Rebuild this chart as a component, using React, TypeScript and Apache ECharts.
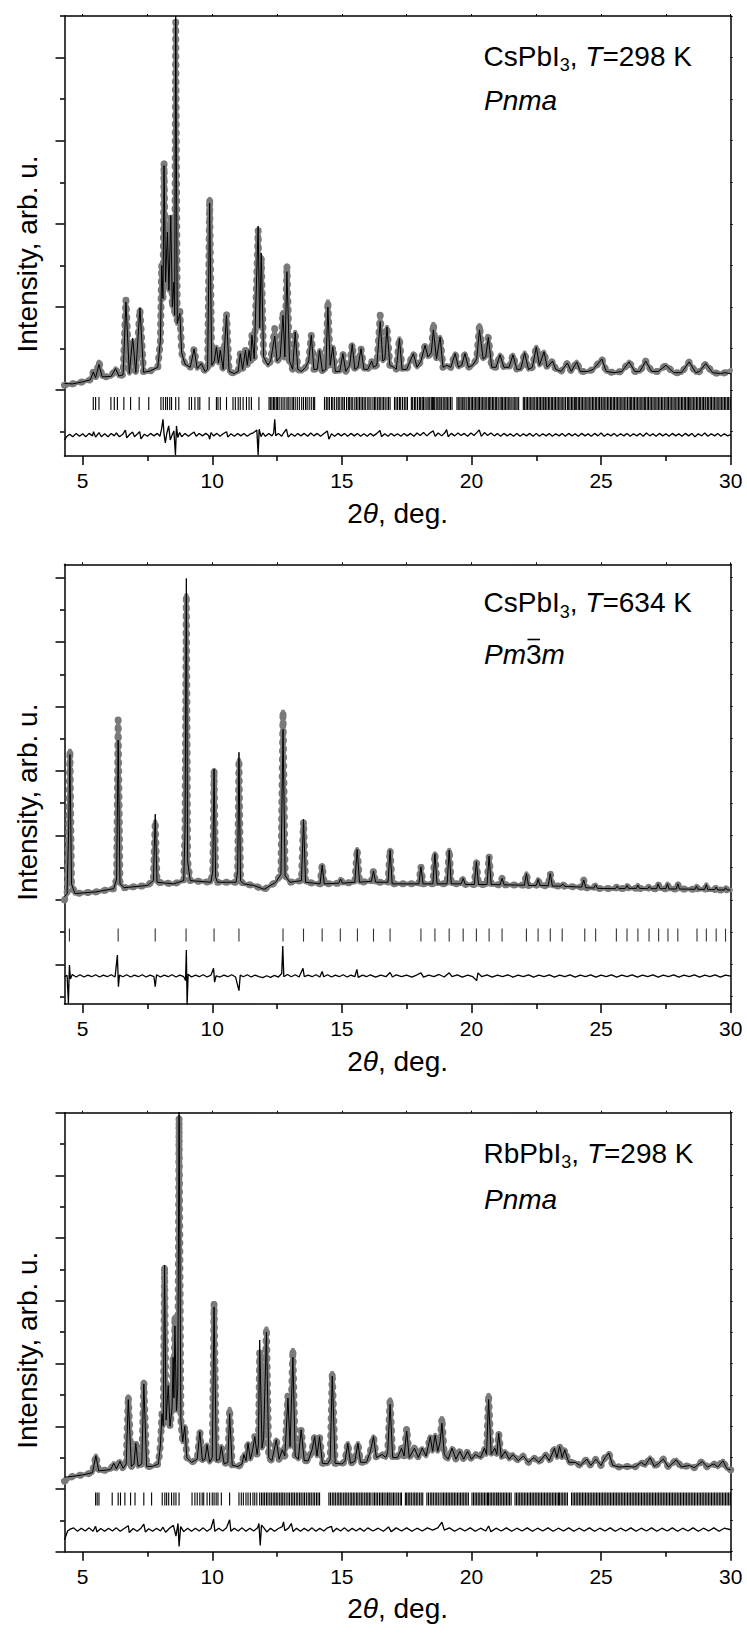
import React, { useEffect, useRef } from "react";
import * as echarts from "echarts";

const FONT = '"Liberation Sans", Arial, Helvetica, sans-serif';

// ---------- axis ticks (2θ) ----------
const X_MIN = 4.3;
const X_MAX = 30;
const xMajorTicks = [5, 10, 15, 20, 25, 30];
const xMinorTicks = [7.5, 12.5, 17.5, 22.5, 27.5];

// ---------- texts ----------
const compounds = ["CsPbI", "CsPbI", "RbPbI"];
const temperatures = ["298", "634", "298"];
const spaceGroups = ["Pnma", "Pm3m", "Pnma"];
const yTitle = "Intensity, arb. u.";

// ---------- panel 1 : CsPbI3, 298 K ----------
// [2θ, observed, calculated (if different)]
const profile1 = [
  [4.30,1.12,1.16],[4.6,1.15],[5.0,1.20],[5.3,1.25],[5.41,1.44],[5.5,1.30],[5.63,1.68,1.62],[5.75,1.32],[6.1,1.33],[6.27,1.52],[6.4,1.34],[6.56,1.37],[6.67,3.17,3.12],[6.8,1.40],[6.93,2.19,2.25],[7.05,1.42],[7.21,2.94,2.98],[7.35,1.43],[7.6,1.46],[7.9,1.55],[8.0,2.2],[8.05,4.0],[8.10,3.2],[8.14,6.47,6.40],[8.2,3.6],[8.27,4.9,4.8],[8.33,3.4],[8.40,5.15,5.2],[8.46,3.0],[8.52,3.6],[8.55,2.8],[8.59,9.85,10.0],[8.65,2.6],[8.75,2.9,2.85],[8.82,1.9],[8.95,1.62],[9.15,1.55],[9.30,1.99],[9.42,1.52],[9.58,1.64],[9.72,1.45],[9.82,1.5],[9.90,5.6,5.5],[9.98,1.6],[10.08,1.7],[10.16,2.04],[10.24,1.65],[10.31,1.96],[10.42,1.5],[10.55,2.84,2.8],[10.65,1.45],[10.85,1.40],[11.0,1.45],[11.08,1.88],[11.17,1.5],[11.28,1.96],[11.35,1.6],[11.42,1.96],[11.48,1.7],[11.53,2.32],[11.62,1.75],[11.77,4.85,4.95],[11.83,2.5],[11.89,4.2,4.3],[11.98,1.8],[12.15,1.6],[12.25,1.7],[12.41,2.48,2.3],[12.5,1.7],[12.62,1.8],[12.73,2.88,2.8],[12.80,1.8],[12.88,4.0,3.85],[12.98,1.7],[13.1,1.5],[13.2,2.40],[13.3,1.5],[13.45,1.45],[13.6,1.55],[13.72,1.7],[13.82,2.32],[13.92,1.5],[14.05,1.5],[14.14,1.96],[14.25,1.45],[14.38,1.5],[14.46,3.13,3.0],[14.55,1.6],[14.65,2.04],[14.75,1.45],[14.92,1.45],[15.04,1.88],[15.15,1.45],[15.3,1.6],[15.4,2.1],[15.5,1.5],[15.62,1.55],[15.74,2.0],[15.85,1.5],[16.0,1.5],[16.15,1.7],[16.22,1.55],[16.35,1.6],[16.48,2.80,2.65],[16.58,1.7],[16.66,1.75],[16.74,2.52],[16.85,1.6],[17.0,1.55],[17.1,1.5],[17.22,2.24],[17.32,1.5],[17.5,1.5],[17.6,1.65],[17.76,1.88],[17.9,1.55],[18.05,1.7],[18.21,2.08],[18.32,1.8],[18.45,1.9],[18.53,2.59,2.45],[18.65,1.75],[18.79,2.28],[18.9,1.55],[19.05,1.6],[19.2,1.55],[19.37,1.88],[19.5,1.55],[19.62,1.6],[19.75,1.88],[19.88,1.55],[20.05,1.6],[20.2,1.75],[20.31,2.56,2.45],[20.45,1.75],[20.55,1.8],[20.65,2.27],[20.78,1.55],[20.95,1.55],[21.1,1.85],[21.25,1.55],[21.45,1.55],[21.6,1.85],[21.75,1.5],[21.9,1.5],[22.05,1.9],[22.2,1.5],[22.35,1.55],[22.5,2.04],[22.62,1.6],[22.8,1.92],[22.92,1.55],[23.13,1.7],[23.25,1.5],[23.45,1.45],[23.7,1.65],[23.85,1.45],[24.06,1.68],[24.2,1.45],[24.5,1.45],[24.7,1.5],[25.03,1.75],[25.2,1.45],[25.5,1.42],[25.8,1.45],[26.08,1.68],[26.3,1.45],[26.5,1.45],[26.72,1.7],[26.95,1.45],[27.2,1.45],[27.5,1.6],[27.8,1.42],[28.1,1.42],[28.4,1.68],[28.65,1.42],[28.8,1.45],[29.04,1.64],[29.3,1.42],[29.6,1.4],[29.8,1.42],[30.0,1.48,1.39]
];
const diff1 = [
  [4.30,-0.20],[4.38,-0.12],[4.5,-0.06],[4.62,-0.12],[4.75,-0.04],[4.88,-0.11],[5.0,-0.05],[5.12,-0.12],[5.25,-0.04],[5.38,-0.1],[5.42,0.0],[5.5,-0.13],[5.63,-0.02],[5.72,-0.12],[5.85,-0.05],[5.98,-0.12],[6.1,-0.04],[6.22,-0.1],[6.3,-0.03],[6.42,-0.12],[6.55,-0.06],[6.65,0.04],[6.7,-0.15],[6.82,-0.06],[6.93,-0.01],[7.0,-0.12],[7.12,-0.05],[7.2,0.0],[7.25,-0.17],[7.38,-0.06],[7.5,-0.11],[7.62,-0.04],[7.75,-0.1],[7.88,-0.04],[7.98,-0.11],[8.04,0.05],[8.1,0.3],[8.14,-0.06],[8.19,-0.27],[8.25,-0.03],[8.32,0.14],[8.38,-0.2],[8.45,-0.08],[8.52,0.02],[8.58,-0.56],[8.62,0.14],[8.67,-0.14],[8.74,-0.02],[8.82,-0.12],[8.95,-0.04],[9.08,-0.11],[9.2,-0.05],[9.3,-0.01],[9.38,-0.11],[9.5,-0.04],[9.62,-0.1],[9.75,-0.04],[9.86,-0.09],[9.9,-0.18],[9.95,-0.02],[10.05,-0.1],[10.18,-0.04],[10.3,-0.11],[10.42,-0.05],[10.55,0.0],[10.6,-0.13],[10.72,-0.05],[10.85,-0.11],[10.98,-0.04],[11.1,-0.1],[11.22,-0.04],[11.35,-0.11],[11.48,-0.05],[11.6,-0.02],[11.72,0.04],[11.77,-0.56],[11.81,0.06],[11.88,-0.12],[11.95,-0.03],[12.05,-0.11],[12.18,-0.04],[12.3,-0.1],[12.37,-0.03],[12.41,0.3],[12.45,-0.1],[12.55,-0.04],[12.68,-0.11],[12.76,-0.02],[12.86,0.06],[12.93,-0.13],[13.05,-0.05],[13.18,-0.11],[13.3,-0.04],[13.42,-0.1],[13.55,-0.04],[13.68,-0.11],[13.8,-0.03],[13.92,-0.1],[14.05,-0.04],[14.18,-0.11],[14.3,-0.05],[14.44,0.02],[14.5,-0.18],[14.6,-0.05],[14.72,-0.11],[14.85,-0.04],[14.98,-0.1],[15.1,-0.04],[15.22,-0.11],[15.35,-0.04],[15.48,-0.1],[15.6,-0.04],[15.72,-0.11],[15.85,-0.05],[15.98,-0.11],[16.1,-0.04],[16.22,-0.1],[16.35,-0.04],[16.47,0.03],[16.53,-0.12],[16.65,-0.05],[16.78,-0.11],[16.9,-0.04],[17.02,-0.1],[17.15,-0.05],[17.28,-0.11],[17.4,-0.04],[17.52,-0.1],[17.65,-0.04],[17.78,-0.11],[17.9,-0.03],[18.02,-0.09],[18.15,-0.02],[18.28,-0.1],[18.4,-0.03],[18.52,0.02],[18.6,-0.11],[18.72,-0.03],[18.85,-0.1],[18.98,-0.02],[19.04,0.05],[19.1,-0.12],[19.22,-0.04],[19.35,-0.1],[19.48,-0.03],[19.6,-0.09],[19.72,-0.04],[19.85,-0.11],[19.98,-0.03],[20.1,-0.09],[20.22,-0.01],[20.3,0.04],[20.38,-0.11],[20.5,-0.02],[20.62,-0.09],[20.75,-0.03],[20.88,-0.1],[21.0,-0.04],[21.12,-0.11],[21.25,-0.04],[21.38,-0.1],[21.5,-0.05],[21.62,-0.11],[21.75,-0.04],[21.88,-0.11],[22.0,-0.05],[22.12,-0.1],[22.25,-0.04],[22.38,-0.11],[22.5,-0.04],[22.62,-0.11],[22.75,-0.05],[22.88,-0.1],[23.0,-0.04],[23.12,-0.11],[23.25,-0.05],[23.38,-0.1],[23.5,-0.04],[23.62,-0.11],[23.75,-0.04],[23.88,-0.1],[24.0,-0.05],[24.12,-0.11],[24.25,-0.04],[24.38,-0.1],[24.5,-0.05],[24.62,-0.11],[24.75,-0.04],[24.88,-0.1],[25.0,-0.03],[25.12,-0.11],[25.25,-0.05],[25.38,-0.1],[25.5,-0.04],[25.62,-0.11],[25.75,-0.05],[25.88,-0.1],[26.0,-0.04],[26.12,-0.11],[26.25,-0.05],[26.38,-0.1],[26.5,-0.04],[26.62,-0.11],[26.75,-0.03],[26.88,-0.1],[27.0,-0.05],[27.12,-0.11],[27.25,-0.04],[27.38,-0.1],[27.5,-0.05],[27.62,-0.11],[27.75,-0.04],[27.88,-0.1],[28.0,-0.05],[28.12,-0.11],[28.25,-0.04],[28.38,-0.1],[28.5,-0.04],[28.62,-0.12],[28.75,-0.05],[28.88,-0.1],[29.0,-0.03],[29.12,-0.11],[29.25,-0.05],[29.38,-0.1],[29.5,-0.04],[29.62,-0.11],[29.75,-0.05],[29.88,-0.1],[30.0,-0.07]
];
const bragg1 = [
  5.41,5.5,5.63,6.09,6.22,6.34,6.59,6.85,7.18,7.55,8.02,8.11,8.2,8.27,8.36,8.43,8.59,8.71,9.11,9.2,9.33,9.45,9.52,9.88,10.16,10.22,10.31,10.55,10.8,10.89,11.0,11.08,11.19,11.32,11.42,11.51,11.8,
  12.19,12.24,12.3,12.36,12.41,12.47,12.52,12.58,12.66,12.73,12.8,12.88,12.93,13.0,13.08,13.13,13.2,13.28,13.36,13.45,13.52,13.6,13.66,13.74,13.82,13.9,13.95,
  14.33,14.4,14.46,14.52,14.6,14.65,14.72,14.8,14.86,14.92,15.0,15.04,15.1,15.18,15.25,15.3,15.36,15.42,15.5,15.56,15.62,15.68,15.74,15.8,15.86,15.92,16.0,16.05,16.12,16.2,
  16.26,16.31,16.38,16.44,16.48,16.55,16.61,16.67,16.74,16.8,16.86,17.03,17.09,17.15,17.22,17.27,17.34,17.41,17.47,17.53,17.68,17.73,17.8,17.85,17.92,17.99,18.04,18.1,18.15,18.21,18.28,18.33,18.39,18.45,18.5,18.53,18.58,18.64,18.7,18.75,18.79,18.85,18.91,18.97,19.02,19.07,19.13,19.19,19.25,
  19.44,19.49,19.55,19.6,19.66,19.71,19.75,19.82,19.88,19.93,19.99,20.04,20.1,20.15,20.21,20.26,20.31,20.37,20.42,20.48,20.53,20.59,20.65,20.7,20.75,20.81,20.86,20.92,20.97,21.03,21.1,21.15,21.2,21.26,21.31,21.37,21.42,21.48,21.53,21.6,21.65,21.71,21.76,21.82,
  22.0,22.05,22.11,22.16,22.22,22.27,22.33,22.38,22.44,22.5,22.55,22.61,22.66,22.72,22.77,22.8,22.86,22.91,22.97,23.02,23.08,23.13,23.19,23.24,23.3,23.35,23.41,23.46,23.52,23.57,23.63,23.7,23.75,23.8,23.86,23.91,23.97,24.02,24.06,24.12,24.17,24.23,24.28,24.34,24.39,24.45,24.5,24.56,24.61,24.67,24.72,24.78,24.83,24.89,24.94,25.0,
  25.03,25.08,25.14,25.19,25.25,25.3,25.36,25.41,25.47,25.52,25.58,25.63,25.69,25.74,25.8,25.85,25.91,25.96,26.02,26.08,26.13,26.18,26.24,26.29,26.35,26.4,26.46,26.51,26.57,26.62,26.68,26.72,26.78,26.83,26.89,26.94,27.0,27.05,27.11,27.16,27.22,27.27,27.33,27.38,27.44,27.5,27.55,27.6,27.66,27.71,27.77,27.82,27.88,27.93,27.99,
  28.04,28.1,28.15,28.21,28.26,28.32,28.37,28.4,28.46,28.51,28.57,28.62,28.68,28.73,28.79,28.84,28.9,28.95,29.01,29.04,29.1,29.15,29.21,29.26,29.32,29.37,29.43,29.48,29.54,29.59,29.65,29.7,29.76,29.81,29.87,29.92,29.98
];

// ---------- panel 2 : CsPbI3, 634 K ----------
const profile2 = [
  [4.30,3.0,3.1],[4.40,3.2],[4.46,5.0,5.2],[4.51,7.63,7.51],[4.57,3.5],[4.7,3.2],[5.5,3.25],[6.2,3.35],[6.31,3.65],[6.37,8.58,7.96],[6.44,3.5],[6.6,3.38],[7.5,3.45],[7.73,3.6],[7.80,5.43,5.66],[7.87,3.55],[8.5,3.5],[8.9,3.6],[8.95,5.2],[9.00,12.45,12.97],[9.05,4.2],[9.15,3.6],[9.95,3.55],[10.02,3.9],[10.07,7.03,7.06],[10.13,3.7],[10.2,3.55],[10.92,3.55],[10.98,3.9],[11.03,7.34,7.58],[11.09,3.6],[11.2,3.5],[11.6,3.45],[12.0,3.33],[12.45,3.55],[12.65,3.8],[12.73,8.84,8.29],[12.81,3.75],[13.0,3.55],[13.44,3.6],[13.52,5.43,5.5],[13.6,3.55],[14.16,3.5],[14.24,4.08],[14.32,3.5],[14.88,3.52],[14.95,3.65],[15.02,3.52],[15.5,3.55],[15.59,4.57],[15.68,3.55],[16.14,3.58],[16.22,3.9],[16.3,3.55],[16.78,3.55],[16.86,4.55],[16.94,3.5],[17.97,3.5],[18.05,4.03],[18.13,3.5],[18.51,3.5],[18.59,4.44],[18.67,3.5],[19.06,3.5],[19.14,4.55],[19.22,3.5],[19.6,3.5],[19.68,3.67],[19.76,3.48],[20.11,3.48],[20.19,4.19],[20.27,3.48],[20.6,3.48],[20.68,4.36],[20.76,3.48],[21.1,3.47],[21.18,3.67],[21.26,3.47],[22.04,3.46],[22.12,3.82],[22.2,3.45],[22.5,3.45],[22.57,3.64],[22.64,3.45],[22.96,3.44],[23.04,3.82],[23.12,3.43],[23.45,3.43],[23.52,3.5],[23.6,3.42],[24.25,3.4],[24.33,3.62],[24.41,3.38],[24.72,3.37],[24.79,3.47],[24.86,3.36],[25.55,3.35],[25.62,3.43],[25.69,3.35],[25.94,3.36],[26.0,3.45],[26.06,3.36],[26.36,3.36],[26.42,3.46],[26.48,3.36],[26.8,3.35],[26.86,3.42],[26.92,3.35],[27.14,3.35],[27.2,3.5],[27.27,3.35],[27.5,3.35],[27.56,3.5],[27.62,3.34],[27.9,3.34],[27.96,3.5],[28.02,3.34],[28.62,3.33],[28.68,3.43],[28.74,3.33],[29.0,3.33],[29.06,3.48],[29.12,3.32],[29.38,3.32],[29.44,3.4],[29.5,3.31],[29.75,3.31],[29.8,3.38],[29.86,3.31],[30.0,3.31]
];
const diff2 = [
  [4.30,0.62],[4.40,0.66],[4.45,-0.2],[4.49,0.98],[4.53,0.55],[4.6,0.69],[4.75,0.61],[4.9,0.68],[5.05,0.61],[5.2,0.67],[5.35,0.62],[5.5,0.68],[5.65,0.61],[5.8,0.67],[5.95,0.62],[6.1,0.68],[6.25,0.61],[6.34,1.29],[6.38,0.31],[6.42,0.67],[6.55,0.62],[6.7,0.68],[6.85,0.61],[7.0,0.67],[7.15,0.62],[7.3,0.68],[7.45,0.61],[7.6,0.67],[7.75,0.62],[7.8,0.31],[7.85,0.68],[8.0,0.61],[8.15,0.67],[8.3,0.62],[8.45,0.68],[8.6,0.61],[8.75,0.67],[8.9,0.62],[8.97,0.5],[9.0,1.45],[9.03,-0.25],[9.07,0.7],[9.2,0.61],[9.35,0.67],[9.5,0.62],[9.65,0.68],[9.8,0.61],[9.95,0.67],[10.05,0.88],[10.09,0.45],[10.15,0.65],[10.3,0.61],[10.45,0.67],[10.6,0.62],[10.75,0.68],[10.9,0.61],[11.03,0.19],[11.08,0.67],[11.2,0.62],[11.35,0.68],[11.5,0.61],[11.65,0.67],[11.8,0.62],[11.95,0.59],[12.1,0.65],[12.25,0.6],[12.4,0.66],[12.55,0.61],[12.68,0.72],[12.72,1.57],[12.76,0.62],[12.9,0.69],[13.05,0.62],[13.2,0.68],[13.35,0.61],[13.5,0.88],[13.55,0.62],[13.7,0.67],[13.85,0.62],[14.0,0.68],[14.15,0.61],[14.24,0.78],[14.3,0.62],[14.45,0.68],[14.6,0.61],[14.75,0.67],[14.9,0.62],[15.05,0.68],[15.2,0.61],[15.35,0.67],[15.5,0.62],[15.58,0.85],[15.63,0.6],[15.8,0.67],[15.95,0.62],[16.1,0.68],[16.3,0.61],[16.5,0.67],[16.7,0.62],[16.86,0.75],[16.95,0.61],[17.1,0.68],[17.3,0.62],[17.5,0.67],[17.7,0.61],[17.9,0.68],[18.05,0.74],[18.15,0.61],[18.35,0.67],[18.55,0.62],[18.75,0.69],[18.95,0.61],[19.14,0.74],[19.25,0.62],[19.45,0.68],[19.65,0.61],[19.85,0.67],[20.05,0.62],[20.2,0.5],[20.25,0.74],[20.4,0.62],[20.6,0.68],[20.8,0.61],[21.0,0.67],[21.2,0.62],[21.4,0.68],[21.6,0.61],[21.8,0.67],[22.0,0.62],[22.2,0.68],[22.4,0.61],[22.6,0.67],[22.8,0.62],[23.0,0.68],[23.2,0.61],[23.4,0.67],[23.6,0.62],[23.8,0.68],[24.0,0.61],[24.2,0.67],[24.4,0.62],[24.6,0.68],[24.8,0.61],[25.0,0.67],[25.2,0.62],[25.4,0.68],[25.6,0.61],[25.8,0.67],[26.0,0.62],[26.2,0.68],[26.4,0.61],[26.6,0.67],[26.8,0.62],[27.0,0.68],[27.2,0.61],[27.4,0.67],[27.6,0.62],[27.8,0.68],[28.0,0.61],[28.2,0.67],[28.4,0.62],[28.6,0.68],[28.8,0.61],[29.0,0.67],[29.2,0.62],[29.4,0.68],[29.6,0.61],[29.8,0.67],[30.0,0.64]
];
const bragg2 = [4.49,6.37,7.8,8.99,10.07,11.03,12.73,13.52,14.24,14.94,15.6,16.22,16.86,18.05,18.59,19.14,19.68,20.19,20.68,21.18,22.12,22.57,23.04,23.5,24.37,24.79,25.59,26.0,26.42,26.85,27.22,27.58,27.96,28.7,29.06,29.44,29.8];

// ---------- panel 3 : RbPbI3, 298 K ----------
const profile3 = [
  [4.30,1.25,1.38],[4.6,1.40],[5.0,1.45],[5.38,1.52],[5.51,2.06],[5.62,1.58],[5.9,1.6],[6.08,1.62],[6.2,1.82],[6.3,1.64],[6.44,1.88],[6.56,1.66],[6.68,1.8],[6.76,3.95,3.85],[6.88,1.72],[6.98,1.8],[7.05,2.46],[7.14,1.72],[7.28,1.8],[7.36,4.42,4.35],[7.47,1.72],[7.7,1.72],[7.92,1.8],[8.0,2.4],[8.06,3.4],[8.11,3.0],[8.16,8.08,8.14],[8.22,3.2],[8.30,4.3],[8.37,3.0],[8.45,3.6],[8.49,5.2],[8.52,3.9],[8.56,6.5,6.2],[8.62,3.5],[8.67,4.2],[8.72,12.85,13.2],[8.79,3.2],[8.86,2.5],[8.94,3.0],[9.02,2.0],[9.2,1.85],[9.42,1.95],[9.52,2.83],[9.62,1.9],[9.72,1.95],[9.8,2.41],[9.9,1.85],[10.0,2.0],[10.07,6.92,6.8],[10.16,1.9],[10.28,1.95],[10.35,2.36],[10.46,1.8],[10.6,1.85],[10.67,3.55,3.4],[10.77,1.75],[11.0,1.72],[11.15,1.8],[11.22,2.1],[11.3,1.9],[11.38,2.46],[11.47,1.95],[11.55,2.2],[11.64,2.67],[11.73,2.1],[11.78,2.4],[11.83,5.35,5.75],[11.92,2.3],[11.98,2.6],[12.09,6.12,6.0],[12.18,2.0],[12.3,1.9],[12.47,2.57],[12.58,1.95],[12.7,2.25],[12.8,2.05],[12.92,4.0,3.9],[13.0,2.35],[13.11,5.43,5.2],[13.2,2.05],[13.32,1.95],[13.43,2.89],[13.55,1.9],[13.7,1.9],[13.85,2.25],[13.95,2.67],[14.04,2.05],[14.14,2.67],[14.25,1.82],[14.45,1.8],[14.55,1.95],[14.63,4.7,4.6],[14.74,1.82],[15.0,1.8],[15.12,1.88],[15.23,2.46],[15.33,1.82],[15.5,1.88],[15.62,2.46],[15.72,1.85],[15.95,1.85],[16.1,2.2],[16.22,2.67],[16.33,2.0],[16.55,2.1],[16.7,2.0],[16.77,2.2],[16.86,3.85,3.7],[16.96,2.0],[17.15,2.0],[17.3,2.3],[17.4,2.05],[17.5,2.94,2.85],[17.6,2.0],[17.8,2.3],[17.95,2.0],[18.1,2.3],[18.25,2.05],[18.41,2.67],[18.5,2.2],[18.6,2.72],[18.7,2.2],[18.79,2.5],[18.86,3.26,3.1],[18.95,2.1],[19.1,1.95],[19.25,2.3],[19.4,1.95],[19.55,2.2],[19.7,1.95],[19.85,2.2],[20.0,1.95],[20.15,2.1],[20.35,2.0],[20.5,2.3],[20.58,2.1],[20.66,4.0,3.85],[20.76,2.1],[20.9,2.3],[20.98,2.1],[21.05,2.78],[21.15,2.0],[21.3,2.2],[21.45,1.95],[21.6,2.1],[21.8,1.9],[22.0,2.05],[22.2,1.85],[22.4,2.0],[22.6,1.85],[22.85,2.1],[23.0,1.9],[23.2,2.3],[23.3,2.0],[23.4,2.36],[23.5,2.0],[23.6,2.25],[23.75,1.85],[24.0,1.85],[24.2,1.75],[24.45,1.95],[24.6,1.75],[24.8,1.95],[25.0,1.75],[25.15,2.0],[25.3,2.14],[25.45,1.75],[25.7,1.7],[26.0,1.72],[26.3,1.7],[26.55,1.85],[26.7,1.75],[26.89,2.0],[27.05,1.72],[27.2,1.8],[27.4,1.95],[27.6,1.7],[27.9,1.93],[28.1,1.7],[28.4,1.75],[28.6,1.68],[28.9,1.88],[29.1,1.7],[29.35,1.8],[29.5,1.7],[29.7,1.9],[29.85,1.65],[30.0,1.61]
];
const diff3 = [
  [4.30,-0.62],[4.42,-0.34],[4.5,-0.29],[4.65,-0.24],[4.8,-0.35],[4.95,-0.25],[5.1,-0.34],[5.25,-0.24],[5.4,-0.35],[5.5,-0.19],[5.55,-0.37],[5.7,-0.26],[5.85,-0.35],[6.0,-0.25],[6.15,-0.34],[6.3,-0.24],[6.45,-0.35],[6.6,-0.26],[6.76,-0.17],[6.8,-0.39],[6.95,-0.26],[7.1,-0.35],[7.25,-0.25],[7.36,-0.12],[7.42,-0.37],[7.55,-0.27],[7.7,-0.35],[7.85,-0.25],[8.0,-0.34],[8.1,-0.22],[8.2,-0.38],[8.35,-0.25],[8.5,-0.16],[8.6,-0.5],[8.68,-0.1],[8.72,-0.83],[8.78,-0.2],[8.9,-0.36],[9.05,-0.25],[9.2,-0.35],[9.35,-0.25],[9.5,-0.34],[9.65,-0.24],[9.8,-0.35],[9.95,-0.26],[10.05,0.04],[10.1,-0.35],[10.25,-0.25],[10.4,-0.34],[10.55,-0.24],[10.67,0.02],[10.72,-0.35],[10.85,-0.25],[11.0,-0.34],[11.15,-0.24],[11.3,-0.35],[11.45,-0.25],[11.6,-0.34],[11.75,-0.24],[11.8,-0.1],[11.85,-0.8],[11.9,-0.15],[12.0,-0.25],[12.1,-0.37],[12.25,-0.25],[12.4,-0.35],[12.55,-0.26],[12.7,-0.2],[12.75,-0.05],[12.8,-0.33],[12.95,-0.24],[13.05,-0.1],[13.12,-0.36],[13.25,-0.25],[13.4,-0.35],[13.55,-0.25],[13.7,-0.34],[13.85,-0.24],[14.0,-0.35],[14.15,-0.25],[14.3,-0.34],[14.45,-0.24],[14.6,-0.19],[14.65,-0.37],[14.8,-0.25],[14.95,-0.34],[15.1,-0.24],[15.25,-0.35],[15.4,-0.25],[15.55,-0.34],[15.7,-0.25],[15.85,-0.35],[16.0,-0.24],[16.2,-0.34],[16.4,-0.25],[16.6,-0.35],[16.8,-0.21],[16.9,-0.36],[17.1,-0.24],[17.3,-0.34],[17.5,-0.24],[17.7,-0.35],[17.9,-0.25],[18.1,-0.34],[18.3,-0.24],[18.5,-0.31],[18.7,-0.24],[18.86,-0.06],[18.95,-0.31],[19.15,-0.24],[19.35,-0.35],[19.55,-0.25],[19.75,-0.34],[19.95,-0.24],[20.15,-0.35],[20.35,-0.25],[20.55,-0.34],[20.66,-0.18],[20.75,-0.36],[20.95,-0.25],[21.15,-0.34],[21.35,-0.24],[21.55,-0.35],[21.75,-0.25],[21.95,-0.34],[22.15,-0.24],[22.35,-0.35],[22.55,-0.25],[22.75,-0.34],[22.95,-0.24],[23.15,-0.35],[23.35,-0.25],[23.55,-0.34],[23.75,-0.24],[23.95,-0.35],[24.15,-0.25],[24.35,-0.34],[24.55,-0.24],[24.75,-0.35],[24.95,-0.25],[25.15,-0.34],[25.35,-0.24],[25.55,-0.35],[25.75,-0.25],[25.95,-0.34],[26.15,-0.24],[26.35,-0.35],[26.55,-0.25],[26.75,-0.34],[26.95,-0.24],[27.15,-0.35],[27.35,-0.25],[27.55,-0.34],[27.75,-0.24],[27.95,-0.35],[28.15,-0.25],[28.35,-0.34],[28.55,-0.24],[28.75,-0.35],[28.95,-0.25],[29.15,-0.34],[29.35,-0.24],[29.55,-0.35],[29.75,-0.25],[30.0,-0.3]
];
const bragg3 = [
  5.5,5.56,5.63,6.14,6.37,6.46,6.63,6.85,7.02,7.36,7.66,8.07,8.17,8.24,8.32,8.43,8.52,8.6,8.72,9.22,9.33,9.42,9.52,9.61,9.67,9.8,9.9,10.0,10.07,10.15,10.22,10.35,10.67,11.03,11.12,11.2,11.3,11.38,11.47,11.57,11.64,11.72,11.83,11.9,11.96,12.02,12.09,12.15,12.22,12.28,12.35,12.41,12.47,12.53,12.6,12.66,12.72,12.78,12.85,12.92,12.98,13.05,13.11,13.17,13.24,13.3,13.37,13.43,13.5,13.56,13.63,13.7,13.76,13.82,13.89,13.95,14.02,14.08,14.14,
  14.5,14.56,14.63,14.69,14.75,14.82,14.88,14.94,15.0,15.07,15.13,15.19,15.25,15.32,15.38,15.44,15.5,15.57,15.62,15.69,15.75,15.81,15.88,15.94,16.0,16.06,16.12,16.2,
  16.26,16.32,16.38,16.45,16.51,16.57,16.63,16.7,16.76,16.82,16.86,16.93,16.99,17.05,17.12,17.18,17.25,17.3,17.45,17.5,17.56,17.62,17.68,17.75,17.81,17.87,17.93,18.0,18.06,18.12,18.28,18.34,18.41,18.47,18.53,18.6,18.66,18.72,18.79,18.86,18.92,18.98,19.04,19.1,19.16,19.22,19.28,19.34,19.4,19.46,19.52,19.58,19.64,19.7,19.76,19.82,19.88,
  20.02,20.08,20.14,20.2,20.26,20.32,20.38,20.44,20.5,20.56,20.62,20.66,20.72,20.78,20.84,20.9,20.96,21.02,21.05,21.11,21.17,21.23,21.29,21.35,21.41,21.47,21.53,21.68,21.74,21.8,21.86,21.92,21.98,22.04,22.1,22.16,22.22,22.28,22.34,22.4,22.46,22.52,22.58,22.64,22.7,22.76,22.82,22.88,22.94,23.0,23.06,23.12,23.18,23.24,23.3,23.36,23.4,23.46,23.52,23.58,23.64,23.7,
  23.86,23.92,23.98,24.04,24.1,24.16,24.22,24.28,24.34,24.4,24.46,24.52,24.58,24.64,24.7,24.76,24.82,24.88,24.94,25.0,25.06,25.12,25.18,25.24,25.3,25.36,25.42,25.48,25.54,25.6,25.66,25.72,25.78,25.84,25.9,25.96,26.02,26.08,26.14,26.2,26.26,26.32,26.38,26.44,26.5,26.56,26.62,26.68,26.74,26.8,26.86,26.92,26.98,
  27.04,27.1,27.16,27.22,27.28,27.34,27.4,27.46,27.52,27.58,27.64,27.7,27.76,27.82,27.88,27.94,28.0,28.06,28.12,28.18,28.24,28.3,28.36,28.42,28.48,28.54,28.6,28.66,28.72,28.78,28.84,28.9,28.96,29.02,29.08,29.14,29.2,29.26,29.32,29.38,29.44,29.5,29.56,29.62,29.68,29.74,29.8,29.86,29.92,29.98
];

// ---------- layout (pixels) ----------
const GRID_LEFT = 64.5;
const GRID_WIDTH = 666.2;
const layout = [
  { top: 16, height: 440, yMin: -0.584, yMax: 10, yMajor: [1, 3, 5, 7, 9], yMinor: [0, 2, 4, 6, 8, 10], braggLevel: 0.68, braggColor: "#000", line1: 66, line2: 110 },
  { top: 564.3, height: 439.7, yMin: -0.226, yMax: 13.41, yMajor: [1, 3, 5, 7, 9, 11, 13], yMinor: [0, 2, 4, 6, 8, 10, 12], braggLevel: 1.91, braggColor: "#333", line1: 612.3, line2: 664.7 },
  { top: 1112.7, height: 439, yMin: -1, yMax: 13, yMajor: [-1, 1, 3, 5, 7, 9, 11, 13], yMinor: [0, 2, 4, 6, 8, 10, 12], braggLevel: 0.68, braggColor: "#000", line1: 1163, line2: 1209 },
];
const X_TITLE_DROP = 67;
const profiles = [profile1, profile2, profile3];
const diffs = [diff1, diff2, diff3];
const braggs = [bragg1, bragg2, bragg3];

let measureCtx: CanvasRenderingContext2D | null = null;
function measure(text: string, size: number, italic: boolean) {
  if (!measureCtx) measureCtx = document.createElement("canvas").getContext("2d");
  measureCtx!.font = `${italic ? "italic " : ""}${size}px ${FONT}`;
  return measureCtx!.measureText(text).width;
}

type Run = { t: string; it?: boolean; sub?: boolean; over?: boolean };
const CENTRAL = 0.3465;

function runsWidth(runs: Run[], size: number, subSize: number) {
  return runs.reduce((s, r) => s + measure(r.t, r.sub ? subSize : size, !!r.it), 0);
}

function layoutRuns(runs: Run[], x0: number, baseline: number, size: number, subSize: number, subDrop: number, out: any[]) {
  let x = x0;
  for (const r of runs) {
    const fs = r.sub ? subSize : size;
    const w = measure(r.t, fs, !!r.it);
    const by = baseline + (r.sub ? subDrop : 0);
    out.push({
      type: "text",
      x,
      y: by - CENTRAL * fs,
      silent: true,
      style: { text: r.t, fontSize: fs, fontFamily: FONT, fontStyle: r.it ? "italic" : "normal", fill: "#000", align: "left", verticalAlign: "middle" },
    });
    if (r.over) {
      const oy = baseline - 0.9 * fs;
      out.push({ type: "line", silent: true, shape: { x1: x + 1.5, y1: oy, x2: x + w - 1.5, y2: oy }, style: { stroke: "#000", lineWidth: 1.6 } });
    }
    x += w;
  }
}

function buildOption() {
  const grid: any[] = [];
  const xAxis: any[] = [];
  const yAxis: any[] = [];
  const series: any[] = [];
  const graphics: any[] = [];
  const axisLineStyle = { color: "#000", width: 1.5 };

  layout.forEach((p, i) => {
    grid.push({ left: GRID_LEFT, top: p.top, width: GRID_WIDTH, height: p.height, containLabel: false, outerBoundsMode: "none" });
    const xi = xAxis.length;
    const common = { gridIndex: i, type: "value", min: X_MIN, max: X_MAX, splitLine: { show: false } };
    xAxis.push({
      ...common, position: "bottom",
      axisLine: { show: true, onZero: false, lineStyle: axisLineStyle },
      axisTick: { show: true, inside: false, customValues: xMajorTicks, length: 9, lineStyle: axisLineStyle },
      axisLabel: { show: true, customValues: xMajorTicks, fontSize: 21, fontFamily: FONT, color: "#000", margin: 14 },
    });
    xAxis.push({
      ...common, position: "bottom",
      axisLine: { show: false, onZero: false },
      axisTick: { show: true, inside: false, customValues: xMinorTicks, length: 5, lineStyle: axisLineStyle },
      axisLabel: { show: false },
    });
    xAxis.push({
      ...common, position: "top",
      axisLine: { show: true, onZero: false, lineStyle: axisLineStyle },
      axisTick: { show: true, inside: false, customValues: [...xMajorTicks, ...xMinorTicks], length: 2, lineStyle: { color: "#000", width: 1 } },
      axisLabel: { show: false },
    });
    const yi = yAxis.length;
    const ycommon = { gridIndex: i, type: "value", min: p.yMin, max: p.yMax, splitLine: { show: false }, axisLabel: { show: false } };
    yAxis.push({
      ...ycommon, position: "left",
      axisLine: { show: true, onZero: false, lineStyle: axisLineStyle },
      axisTick: { show: true, inside: false, customValues: p.yMajor, length: 9, lineStyle: axisLineStyle },
    });
    yAxis.push({
      ...ycommon, position: "left",
      axisLine: { show: false, onZero: false },
      axisTick: { show: true, inside: false, customValues: p.yMinor, length: 4.5, lineStyle: axisLineStyle },
    });
    yAxis.push({
      ...ycommon, position: "right",
      axisLine: { show: true, onZero: false, lineStyle: axisLineStyle },
      axisTick: { show: true, inside: false, customValues: [...p.yMajor, ...p.yMinor], length: 2, lineStyle: { color: "#000", width: 1 } },
    });

    const prof = profiles[i];
    const obs = prof.map((d) => [d[0], d[1]]);
    const calc = prof.map((d) => [d[0], d.length > 2 ? d[2] : d[1]]);
    const base = { xAxisIndex: xi, yAxisIndex: yi, silent: true, animation: false, emphasis: { disabled: true } };
    series.push({ ...base, type: "line", data: obs, symbol: "none", lineStyle: { color: "#858585", width: 4.5, join: "round", cap: "round" }, z: 2 });
    series.push({ ...base, type: "line", data: obs, symbol: "none", lineStyle: { color: "#7a7a7a", width: 7, type: [0.5, 8], cap: "round", join: "round" }, z: 3 });
    series.push({ ...base, type: "line", data: calc, symbol: "none", lineStyle: { color: "#000", width: 1 }, z: 4 });
    series.push({ ...base, type: "line", data: diffs[i], symbol: "none", lineStyle: { color: "#000", width: 1.3 }, z: 4 });
    series.push({ ...base, type: "scatter", data: braggs[i].map((b) => [b, p.braggLevel]), symbol: "rect", symbolSize: [1.1, 13], itemStyle: { color: p.braggColor, opacity: 1 }, z: 4 });

    // y title
    graphics.push({
      type: "text", x: 27, y: p.top + p.height / 2 + 18, rotation: Math.PI / 2, silent: true,
      style: { text: yTitle, fontSize: 28, fontFamily: FONT, fill: "#000", align: "center", verticalAlign: "middle" },
    });
    // x title
    const xRuns: Run[] = [{ t: "2" }, { t: "θ", it: true }, { t: ", deg." }];
    const xw = runsWidth(xRuns, 28, 28);
    layoutRuns(xRuns, GRID_LEFT + GRID_WIDTH / 2 - xw / 2, p.top + p.height + X_TITLE_DROP, 28, 28, 0, graphics);
    // annotation
    const l1: Run[] = [{ t: compounds[i] }, { t: "3", sub: true }, { t: ", " }, { t: "T", it: true }, { t: `=${temperatures[i]} K` }];
    layoutRuns(l1, 483.5, p.line1, 28, 18, 5.7, graphics);
    const sg = spaceGroups[i];
    const l2: Run[] = sg === "Pm3m" ? [{ t: "Pm", it: true }, { t: "3", over: true }, { t: "m", it: true }] : [{ t: sg, it: true }];
    layoutRuns(l2, 484, p.line2, 28, 18, 0, graphics);
  });

  return {
    animation: false,
    backgroundColor: "#ffffff",
    grid,
    xAxis,
    yAxis,
    series,
    graphic: { elements: graphics },
  };
}

export default function App() {
  const ref = useRef<HTMLDivElement>(null);
  useEffect(() => {
    document.body.style.margin = "0";
    const chart = echarts.init(ref.current!, null, { renderer: "svg" });
    chart.setOption(buildOption() as any);
    return () => chart.dispose();
  }, []);
  return <div ref={ref} style={{ width: 747, height: 1633 }} />;
}
